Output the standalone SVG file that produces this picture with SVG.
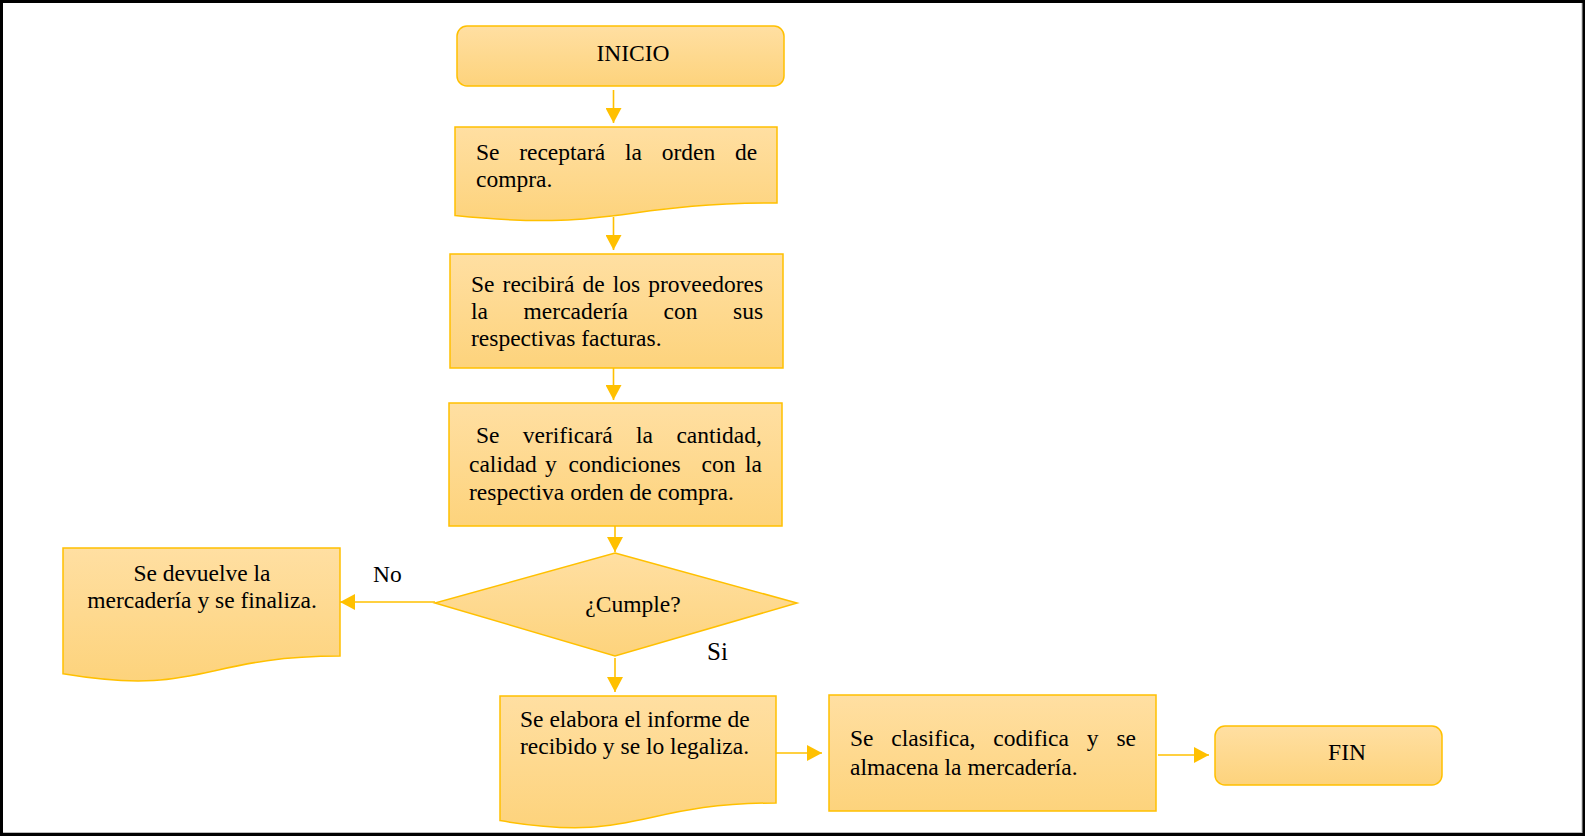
<svg xmlns="http://www.w3.org/2000/svg" width="1585" height="837" viewBox="0 0 1585 837">
<style>
  .shape { fill: url(#gold); stroke: #FFC000; stroke-width: 1.5; }
  .t { font-family: "Liberation Serif", "Times New Roman", serif; font-size: 23.5px; fill: #000; }
  .c { text-anchor: middle; }
  .conn { stroke: #FFC000; stroke-width: 1.6; fill: none; marker-end: url(#arr); }
</style>
<defs>
  <linearGradient id="gold" x1="0" y1="0" x2="0" y2="1">
    <stop offset="0" stop-color="#FFDFA2"/>
    <stop offset="1" stop-color="#FDD37C"/>
  </linearGradient>
  <marker id="arr" markerUnits="userSpaceOnUse" markerWidth="16" markerHeight="16" refX="15" refY="8" orient="auto">
    <path d="M0,0 L15,8 L0,16 Z" fill="#FFC000"/>
  </marker>
</defs>
<rect x="0" y="0" width="1585" height="837" fill="#fff"/>
<rect x="1.5" y="1.5" width="1582" height="833" fill="none" stroke="#000" stroke-width="3"/>
<line x1="1582" y1="3" x2="1582" y2="833" stroke="#bbb" stroke-width="1"/>
<line x1="3" y1="832.5" x2="1582" y2="832.5" stroke="#bbb" stroke-width="1"/>

<g id="connectors">
  <line class="conn" x1="613.5" y1="90" x2="613.5" y2="123"/>
  <line class="conn" x1="613.5" y1="217" x2="613.5" y2="250"/>
  <line class="conn" x1="613.5" y1="368" x2="613.5" y2="400"/>
  <line class="conn" x1="615" y1="526" x2="615" y2="552"/>
  <line class="conn" x1="435" y1="602" x2="340" y2="602"/>
  <line class="conn" x1="615" y1="658" x2="615" y2="692"/>
  <line class="conn" x1="776" y1="753" x2="822" y2="753"/>
  <line class="conn" x1="1158" y1="755" x2="1209" y2="755"/>
  <text class="t" x="373" y="582">No</text>
  <text class="t" x="707" y="660" style="font-size:25px">Si</text>
</g>

<g id="inicio">
  <rect class="shape" x="457" y="26" width="327" height="60" rx="10"/>
  <text class="t c" x="633" y="61">INICIO</text>
</g>

<g id="recepcion">
  <path class="shape" d="M455,127 H777 V203 C616,203 616,232 455,215.5 Z"/>
  <text class="t" y="160"><tspan x="476">Se</tspan><tspan x="519.2">receptará</tspan><tspan x="625">la</tspan><tspan x="661.7">orden</tspan><tspan x="734.9">de</tspan></text>
  <text class="t" x="476" y="187">compra.</text>
</g>

<g id="recibir">
  <rect class="shape" x="450" y="254" width="333" height="114"/>
  <text class="t" y="292"><tspan x="471">Se</tspan><tspan x="502.6">recibirá</tspan><tspan x="582.5">de</tspan><tspan x="612.8">los</tspan><tspan x="648.3">proveedores</tspan></text>
  <text class="t" y="319"><tspan x="471">la</tspan><tspan x="523.6">mercadería</tspan><tspan x="663.6">con</tspan><tspan x="733.1">sus</tspan></text>
  <text class="t" x="471" y="346">respectivas facturas.</text>
</g>

<g id="verificar">
  <rect class="shape" x="449" y="403" width="333" height="123"/>
  <text class="t" y="443"><tspan x="476">Se</tspan><tspan x="522.8">verificará</tspan><tspan x="636.1">la</tspan><tspan x="676.4">cantidad,</tspan></text>
  <text class="t" y="472"><tspan x="469">calidad</tspan><tspan x="545">y</tspan><tspan x="568.5">condiciones</tspan><tspan x="701.5">con</tspan><tspan x="745">la</tspan></text>
  <text class="t" x="469" y="500">respectiva orden de compra.</text>
</g>

<g id="cumple">
  <polygon class="shape" points="615,553 797,603 615,656 435,603"/>
  <text class="t c" x="633" y="612">¿Cumple?</text>
</g>

<g id="devuelve">
  <path class="shape" d="M63,548 H340 V656 C201.5,656 201.5,697 63,673.8 Z"/>
  <text class="t c" x="202" y="581">Se devuelve la</text>
  <text class="t c" x="202" y="608">mercadería y se finaliza.</text>
</g>

<g id="informe">
  <path class="shape" d="M500,696 H776 V803 C638,803 638,843.7 500,820.6 Z"/>
  <text class="t" x="520" y="727">Se elabora el informe de</text>
  <text class="t" x="520" y="754">recibido y se lo legaliza.</text>
</g>

<g id="almacena">
  <rect class="shape" x="829" y="695" width="327" height="116"/>
  <text class="t" y="746"><tspan x="850">Se</tspan><tspan x="891.3">clasifica,</tspan><tspan x="993.3">codifica</tspan><tspan x="1086.8">y</tspan><tspan x="1116.4">se</tspan></text>
  <text class="t" x="850" y="775">almacena la mercadería.</text>
</g>

<g id="fin">
  <rect class="shape" x="1215" y="726" width="227" height="59" rx="10"/>
  <text class="t c" x="1347" y="760">FIN</text>
</g>
</svg>
